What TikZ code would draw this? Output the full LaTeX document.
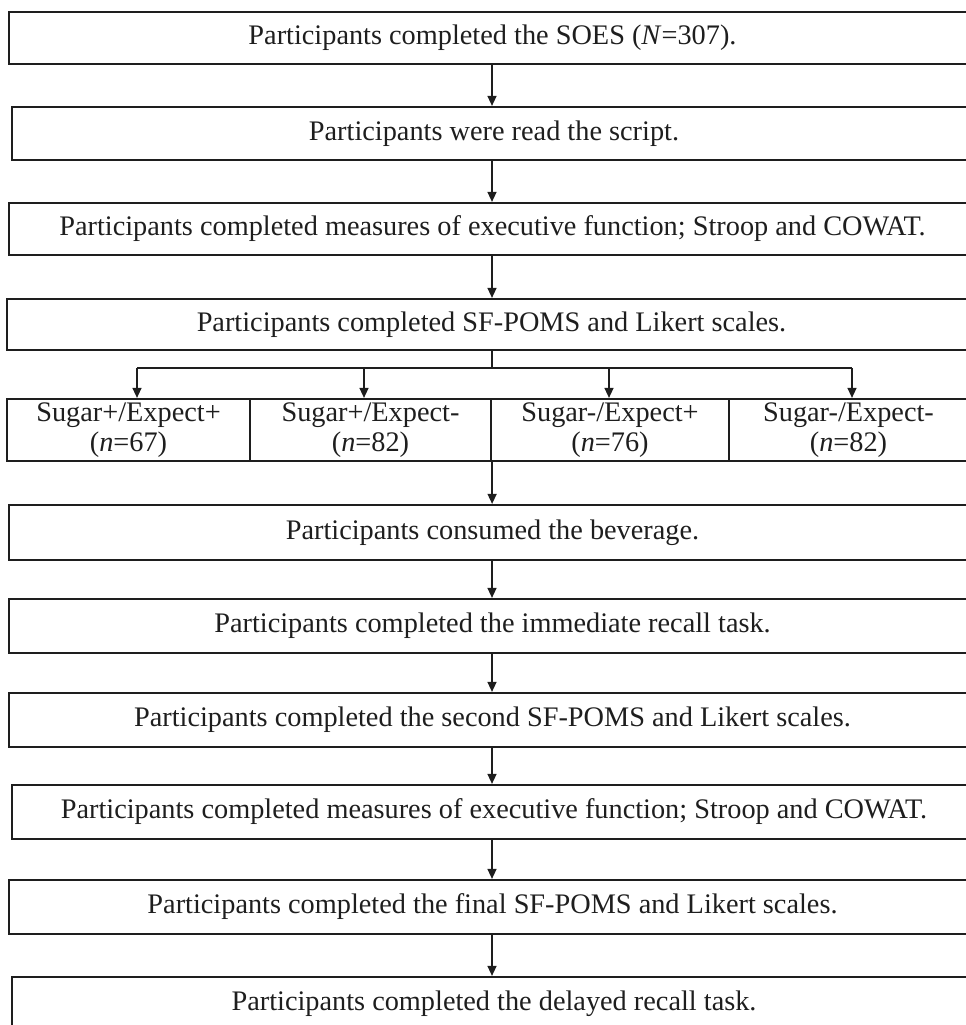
\documentclass[tikz,border=0pt]{standalone}
\usepackage{fontspec}
\setmainfont{Liberation Serif}
\usetikzlibrary{arrows.meta}
\definecolor{ink}{HTML}{1E1E1E}
\begin{document}
\begin{tikzpicture}[x=1pt,y=-1pt,
  stepbox/.style={draw=ink, line width=2.2pt, inner sep=0pt,
    font=\fontsize{28.3}{29.5}\selectfont, text=ink},
  cell/.style={stepbox, minimum height=62pt, align=center},
  flow/.style={draw=ink, line width=1.4pt, -{Triangle[length=10pt,width=9pt]}},
  link/.style={draw=ink, line width=1.4pt},
]
\useasboundingbox (0,0) rectangle (966,1025);
\clip (0,0) rectangle (966,1025);

% main sequence of steps
\node[stepbox, minimum width=967pt, minimum height=52pt] (b1) at (492.5,38)
  {Participants completed the SOES (\textit{N}=307).};
\node[stepbox, minimum width=964pt, minimum height=53pt] (b2) at (494,133.5)
  {Participants were read the script.};
\node[stepbox, minimum width=967pt, minimum height=52pt] (b3) at (492.5,229)
  {Participants completed measures of executive function; Stroop and COWAT.};
\node[stepbox, minimum width=969pt, minimum height=51pt] (b4) at (491.5,324.5)
  {Participants completed SF-POMS and Likert scales.};

% four experimental conditions
\node[cell, minimum width=243pt] (c1) at (128.5,430) {Sugar+/Expect+\\(\textit{n}=67)};
\node[cell, minimum width=241pt] (c2) at (370.5,430) {Sugar+/Expect-\\(\textit{n}=82)};
\node[cell, minimum width=238pt] (c3) at (610,430) {Sugar-/Expect+\\(\textit{n}=76)};
\node[cell, minimum width=239pt] (c4) at (848.5,430) {Sugar-/Expect-\\(\textit{n}=82)};

\node[stepbox, minimum width=967pt, minimum height=55pt] (b5) at (492.5,532.5)
  {Participants consumed the beverage.};
\node[stepbox, minimum width=967pt, minimum height=54pt] (b6) at (492.5,626)
  {Participants completed the immediate recall task.};
\node[stepbox, minimum width=967pt, minimum height=54pt] (b7) at (492.5,720)
  {Participants completed the second SF-POMS and Likert scales.};
\node[stepbox, minimum width=964pt, minimum height=54pt] (b8) at (494,812)
  {Participants completed measures of executive function; Stroop and COWAT.};
\node[stepbox, minimum width=967pt, minimum height=54pt] (b9) at (492.5,907)
  {Participants completed the final SF-POMS and Likert scales.};
\node[stepbox, minimum width=964pt, minimum height=54pt] (b10) at (494,1004)
  {Participants completed the delayed recall task.};

% arrows between consecutive steps
\coordinate (spine) at (492,0);
\draw[flow] (spine |- b1.south) -- (spine |- b2.north);
\draw[flow] (spine |- b2.south) -- (spine |- b3.north);
\draw[flow] (spine |- b3.south) -- (spine |- b4.north);

% branching into the four conditions
\coordinate (hub) at (492,368);
\coordinate (t1) at (137,368);
\coordinate (t2) at (364,368);
\coordinate (t3) at (609,368);
\coordinate (t4) at (852,368);
\draw[link] (spine |- b4.south) -- (hub);
\draw[link] (t1) -- (t4);
\draw[flow] (t1) -- (t1 |- c1.north);
\draw[flow] (t2) -- (t2 |- c2.north);
\draw[flow] (t3) -- (t3 |- c3.north);
\draw[flow] (t4) -- (t4 |- c4.north);

\draw[flow] (c2.south east) -- (c2.south east |- b5.north);
\draw[flow] (spine |- b5.south) -- (spine |- b6.north);
\draw[flow] (spine |- b6.south) -- (spine |- b7.north);
\draw[flow] (spine |- b7.south) -- (spine |- b8.north);
\draw[flow] (spine |- b8.south) -- (spine |- b9.north);
\draw[flow] (spine |- b9.south) -- (spine |- b10.north);
\end{tikzpicture}
\end{document}
